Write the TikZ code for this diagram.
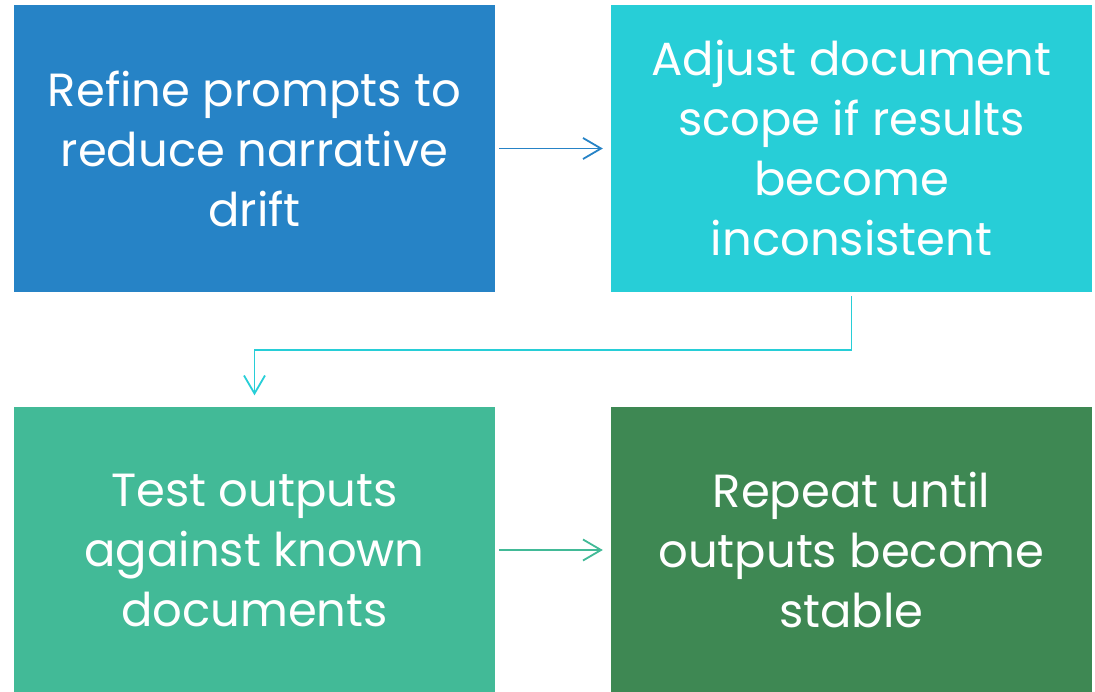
\documentclass[tikz,border=0pt]{standalone}
\usepackage{fontspec}
\setmainfont{Poppins}
\usetikzlibrary{arrows.meta}

\definecolor{stepblue}{HTML}{2683C6}
\definecolor{stepcyan}{HTML}{27CED7}
\definecolor{stepteal}{HTML}{42BA97}
\definecolor{stepgreen}{HTML}{3E8853}

\begin{document}
\begin{tikzpicture}[x=1pt, y=-1pt,
    >={Straight Barb[length=18pt, width=21pt]},
    stepbox/.style={rectangle, minimum width=481pt, minimum height=287pt,
        inner sep=0pt, text=white, align=center,
        font=\fontsize{46.5}{60}\selectfont},
    link/.style={->, line width=1.8pt, shorten <=4pt, shorten >=8pt}]

    \useasboundingbox (0,0) rectangle (1095,691);

    % Steps
    \node[stepbox, fill=stepblue] at (254.5, 148.5) (refine) {Refine prompts to\\reduce narrative\\drift};
    \node[stepbox, fill=stepcyan] at (851.5, 148.5) (adjust) {Adjust document\\scope if results\\become\\inconsistent};
    \node[stepbox, fill=stepteal] at (254.5, 550) (test) {Test outputs\\against known\\documents};
    \node[stepbox, fill=stepgreen] at (851.5, 550) (repeat) {Repeat until\\outputs become\\stable};

    % Links
    \coordinate (turn) at (0, 350);
    \draw[link, stepblue] (refine) -- (adjust);
    \draw[link, stepcyan, shorten >=11pt] (adjust.south) -- (adjust.south |- turn) -| (test.north);
    \draw[link, stepteal] (test) -- (repeat);
\end{tikzpicture}
\end{document}
